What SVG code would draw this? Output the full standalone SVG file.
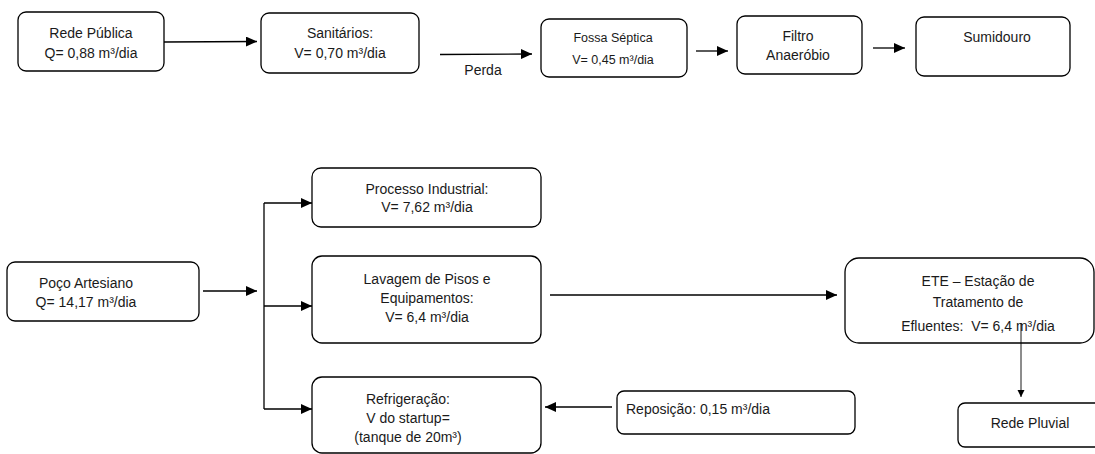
<svg xmlns="http://www.w3.org/2000/svg" width="1095" height="454" viewBox="0 0 1095 454">
<style>
.box{fill:#fff;stroke:#000;stroke-width:1.3}
.t{font-family:"Liberation Sans",Arial,sans-serif;font-size:14px;fill:#1a1a1a;text-anchor:middle}
.s{font-size:12.5px}
.l{text-anchor:start}
.c{fill:none;stroke:#000;stroke-width:1.3}
.thin{fill:none;stroke:#000;stroke-width:0.9}
</style>
<defs>
<marker id="ah" markerUnits="userSpaceOnUse" markerWidth="12" markerHeight="10" refX="11" refY="5" orient="auto"><path d="M0,0 L11,5 L0,10 Z" fill="#000"/></marker>
<marker id="sh" markerUnits="userSpaceOnUse" markerWidth="8" markerHeight="8" refX="7" refY="3.5" orient="auto"><path d="M0,0 L7,3.5 L0,7 Z" fill="#000"/></marker>
</defs>
<rect width="1095" height="454" fill="#fff"/>
<g id="rede-publica">
<rect class="box" x="18" y="12" width="146" height="59" rx="8"/>
<text class="t" x="91" y="38">Rede Pública</text>
<text class="t" x="91" y="58">Q= 0,88 m³/dia</text>
</g>
<g id="sanitarios">
<rect class="box" x="261" y="13" width="158" height="60" rx="8"/>
<text class="t" x="340" y="38">Sanitários:</text>
<text class="t" x="340" y="58">V= 0,70 m³/dia</text>
</g>
<g id="fossa">
<rect class="box" x="541" y="19" width="146" height="58" rx="8"/>
<text class="t s" x="613" y="42">Fossa Séptica</text>
<text class="t s" x="613" y="64">V= 0,45 m³/dia</text>
</g>
<g id="filtro">
<rect class="box" x="737" y="16" width="125" height="58" rx="8"/>
<text class="t" x="798" y="41">Filtro</text>
<text class="t" x="798" y="60">Anaeróbio</text>
</g>
<g id="sumidouro">
<rect class="box" x="916" y="17" width="154" height="59" rx="8"/>
<text class="t" x="997" y="42">Sumidouro</text>
</g>
<g id="poco">
<rect class="box" x="7" y="262" width="192" height="59" rx="8"/>
<text class="t" x="86" y="288">Poço Artesiano</text>
<text class="t" x="86" y="307">Q= 14,17 m³/dia</text>
</g>
<g id="processo">
<rect class="box" x="312" y="168" width="229" height="59" rx="9"/>
<text class="t" x="427" y="194">Processo Industrial:</text>
<text class="t" x="427" y="212">V= 7,62 m³/dia</text>
</g>
<g id="lavagem">
<rect class="box" x="312" y="256" width="229" height="87" rx="10"/>
<text class="t" x="427" y="284">Lavagem de Pisos e</text>
<text class="t" x="427" y="303">Equipamentos:</text>
<text class="t" x="427" y="322">V= 6,4 m³/dia</text>
</g>
<g id="refrigeracao">
<rect class="box" x="312" y="377" width="229" height="76" rx="10"/>
<text class="t" x="408" y="404">Refrigeração:</text>
<text class="t" x="408" y="423">V do startup=</text>
<text class="t" x="408" y="442">(tanque de 20m³)</text>
</g>
<g id="reposicao">
<rect class="box" x="617" y="391" width="238" height="43" rx="7"/>
<text class="t l" x="626" y="414">Reposição: 0,15 m³/dia</text>
</g>
<g id="ete">
<rect class="box" x="845" y="258" width="249" height="85" rx="14"/>
<text class="t" x="978" y="286">ETE – Estação de</text>
<text class="t" x="978" y="307">Tratamento de</text>
<text class="t" x="978" y="331" xml:space="preserve">Efluentes:  V= 6,4 m³/dia</text>
</g>
<g id="rede-pluvial">
<rect class="box" x="958" y="403" width="144" height="44" rx="7"/>
<text class="t" x="1030" y="428">Rede Pluvial</text>
</g>
<g id="connectors">
<path class="c" d="M164,42 L257,41.5" marker-end="url(#ah)"/>
<path class="c" d="M440,54.5 L532,54" marker-end="url(#ah)"/>
<path class="c" d="M696,51 L728,51" marker-end="url(#ah)"/>
<path class="c" d="M873,48 L905,48" marker-end="url(#ah)"/>
<path class="c" d="M203,291 L257,291" marker-end="url(#ah)"/>
<path class="c" d="M264,203 L264,409"/>
<path class="c" d="M264,203 L312,203" marker-end="url(#ah)"/>
<path class="c" d="M264,306 L312,306" marker-end="url(#ah)"/>
<path class="c" d="M264,409 L312,409" marker-end="url(#ah)"/>
<path class="c" d="M550,295 L837,295" marker-end="url(#ah)"/>
<path class="c" d="M612,407 L545,407" marker-end="url(#ah)"/>
<path class="thin" d="M1021,323 L1021,397" marker-end="url(#sh)"/>
<text class="t" x="483" y="75">Perda</text>
</g>
</svg>
